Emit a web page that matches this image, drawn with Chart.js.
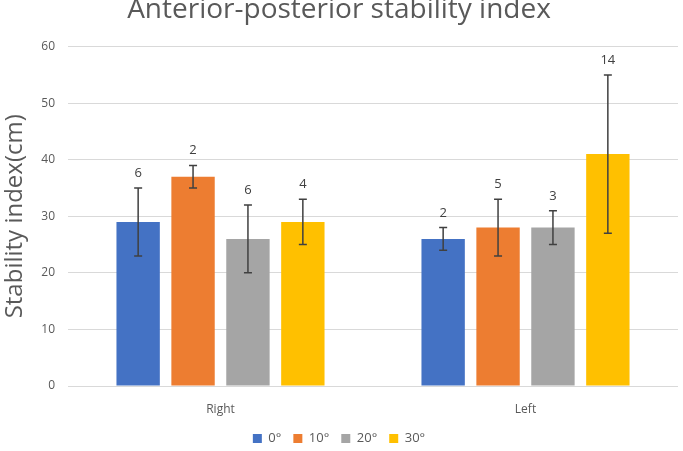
<!DOCTYPE html>
<html>
<head>
<meta charset="utf-8">
<script src="https://cdn.jsdelivr.net/npm/chart.js@4/dist/chart.umd.min.js"></script>
<style>
  html, body { margin: 0; padding: 0; background: #ffffff; overflow: hidden; }
  #wrap { position: absolute; left: 0; top: -8px; width: 683px; height: 463px; }
</style>
</head>
<body>
<div id="wrap"><canvas id="c" width="683" height="463"></canvas></div>
<script>
const categories = ['Right', 'Left'];
const seriesNames = ['0°', '10°', '20°', '30°'];
const means0 = [29, 26];
const means10 = [37, 28];
const means20 = [26, 28];
const means30 = [29, 41];
const err0 = [6, 2];
const err10 = [2, 5];
const err20 = [6, 3];
const err30 = [4, 14];
const yTicks = [0, 10, 20, 30, 40, 50, 60];

const colors = ['#4472C4', '#ED7D31', '#A5A5A5', '#FFC000'];
const means = [means0, means10, means20, means30];
const errs = [err0, err10, err20, err30];
const FONT = '"Open Sans", "Noto Sans", "DejaVu Sans", sans-serif';
const TEXT = '#595959';

const errorBarPlugin = {
  id: 'errorBars',
  afterDatasetsDraw(chart) {
    const ctx = chart.ctx;
    const y = chart.scales.y;
    chart.data.datasets.forEach((ds, i) => {
      const meta = chart.getDatasetMeta(i);
      meta.data.forEach((bar, j) => {
        const v = ds.data[j];
        const e = ds.errors[j];
        const yTop = y.getPixelForValue(v + e);
        const yBot = y.getPixelForValue(v - e);
        const x = bar.x;
        ctx.save();
        ctx.strokeStyle = '#404040';
        ctx.lineWidth = 1.5;
        ctx.beginPath();
        ctx.moveTo(x, yTop); ctx.lineTo(x, yBot);
        ctx.moveTo(x - 4, yTop); ctx.lineTo(x + 4, yTop);
        ctx.moveTo(x - 4, yBot); ctx.lineTo(x + 4, yBot);
        ctx.stroke();
        ctx.fillStyle = '#404040';
        ctx.font = '13px ' + FONT;
        ctx.textAlign = 'center';
        ctx.textBaseline = 'alphabetic';
        ctx.fillText(String(e), x, yTop - 11);
        ctx.restore();
      });
    });
  }
};

new Chart(document.getElementById('c'), {
  type: 'bar',
  data: {
    labels: categories,
    datasets: seriesNames.map((n, i) => ({
      label: n,
      data: means[i],
      errors: errs[i],
      backgroundColor: colors[i],
      borderWidth: 0,
      categoryPercentage: 0.72,
      barPercentage: 0.79
    }))
  },
  options: {
    responsive: false,
    animation: false,
    layout: { padding: { left: 0, right: 5, top: 0, bottom: 0 } },
    plugins: {
      title: {
        display: true,
        text: 'Anterior-posterior stability index',
        color: TEXT,
        font: { family: FONT, size: 28, weight: 'normal' },
        padding: { top: 1, bottom: 20 }
      },
      legend: {
        position: 'bottom',
        labels: {
          color: TEXT,
          font: { family: FONT, size: 13 },
          boxWidth: 9,
          boxHeight: 9,
          padding: 12
        }
      },
      tooltip: { enabled: false }
    },
    scales: {
      x: {
        afterFit: (s) => { s.height = 34; },
        grid: { display: false, drawTicks: false },
        border: { display: false },
        ticks: { color: TEXT, font: { family: FONT, size: 12 }, padding: 16 }
      },
      y: {
        min: 0,
        max: 60,
        afterBuildTicks: (s) => { s.ticks = yTicks.map(v => ({ value: v })); },
        afterFit: (s) => { s.width = 68; },
        grid: { color: '#D9D9D9', lineWidth: 1, drawTicks: false },
        border: { display: false },
        ticks: { color: TEXT, font: { family: FONT, size: 12 }, padding: 13 },
        title: {
          display: true,
          text: 'Stability index(cm)',
          color: TEXT,
          font: { family: FONT, size: 24, weight: 'normal' },
          padding: { top: 1, bottom: 0 }
        }
      }
    }
  },
  plugins: [errorBarPlugin]
});
</script>
</body>
</html>
